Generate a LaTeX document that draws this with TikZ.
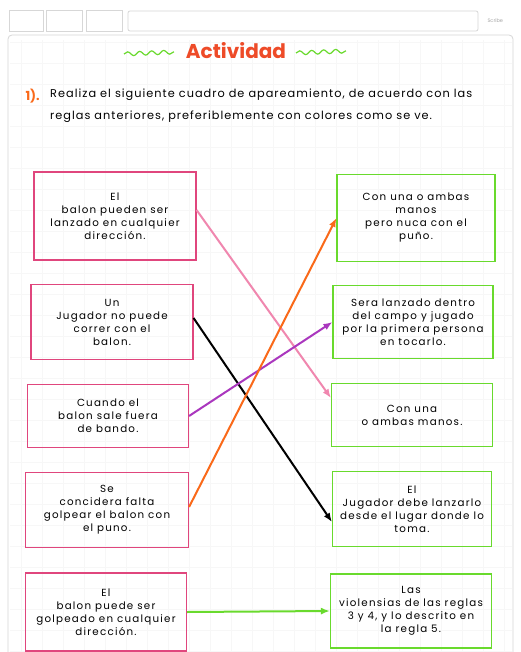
\documentclass[tikz,border=0pt]{standalone}
\usepackage{fontspec}
\setmainfont{Poppins}
\usetikzlibrary{arrows.meta,decorations.pathmorphing}

\definecolor{rosa}{RGB}{224,70,125}
\definecolor{rosaclaro}{RGB}{240,135,175}
\definecolor{verde}{RGB}{105,218,45}
\definecolor{naranja}{RGB}{250,105,25}
\definecolor{morado}{RGB}{170,55,190}
\definecolor{titulo}{RGB}{238,75,40}
\definecolor{marco}{RGB}{215,215,215}

\newcommand{\letra}{\fontsize{10.3}{13}\selectfont\addfontfeature{LetterSpace=12}}

\begin{document}
\begin{tikzpicture}[x=1pt,y=-1pt,
    izq/.style={draw=rosa,line width=1.1pt,align=center,font=\letra,inner sep=1pt},
    der/.style={draw=verde,line width=1.1pt,align=center,font=\letra,inner sep=1pt},
    flecha/.style={line width=2pt,-{Latex[length=9pt,width=7pt]}},
    ola/.style={verde,line width=1.2pt,decorate,decoration={snake,amplitude=2pt,segment length=12pt}}]
    \useasboundingbox (0,0) rectangle (521,652);
    \fill[white] (0,0) rectangle (521,652);

    % cuadro de la pagina
    \draw[black!3,step=21pt] (10,40) grid (512,652);
    \draw[marco,line width=0.8pt,rounded corners=4pt] (8,35) rectangle (513,670);
    \draw[marco,line width=0.8pt] (9,10) rectangle (43,31) (46,10) rectangle (82,31) (86,10) rectangle (122,31);
    \draw[marco,line width=0.8pt,rounded corners=2pt] (128,11) rectangle (478,31);
    \node[gray!70,font=\tiny,anchor=west] (scribe) at (484,21) {Scribe};

    % titulo
    \node[titulo,font=\fontsize{20}{22}\selectfont\bfseries] (act) at (236,51) {Actividad};
    \draw[ola] (124,54) -- (174,52);
    \draw[ola] (296,53) -- (346,51);

    \node[naranja,font=\fontsize{12.5}{14}\selectfont\bfseries,anchor=west] (num) at (22,96) {1).};
    \node[anchor=north west,align=left,inner sep=0pt,
          font=\fontsize{11.3}{22}\selectfont\addfontfeature{LetterSpace=9}] (enunciado) at (50,89)
          {Realiza el siguiente cuadro de apareamiento, de acuerdo con las\\
           reglas anteriores, preferiblemente con colores como se ve.};

    % columna izquierda
    \node[izq,minimum width=162pt,minimum height=88pt] (l1) at (115,216)
        {El\\ balon pueden ser\\ lanzado en cualquier\\ dirección.};
    \node[izq,minimum width=162pt,minimum height=75pt] (l2) at (112,322)
        {Un\\ Jugador no puede\\ correr con el\\ balon.};
    \node[izq,minimum width=161pt,minimum height=63pt] (l3) at (108,416)
        {Cuando el\\ balon sale fuera\\ de bando.};
    \node[izq,minimum width=163pt,minimum height=75pt] (l4) at (107,510)
        {Se\\ concidera falta\\ golpear el balon con\\ el puno.};
    \node[izq,minimum width=161pt,minimum height=78pt] (l5) at (106,612)
        {El\\ balon puede ser\\ golpeado en cualquier\\ dirección.};

    % columna derecha
    \node[der,minimum width=158pt,minimum height=87pt] (r1) at (416,218)
        {Con una o ambas\\ manos\\ pero nuca con el\\ puño.};
    \node[der,minimum width=160pt,minimum height=73pt] (r2) at (413,322)
        {Sera lanzado dentro\\ del campo y jugado\\ por la primera persona\\ en tocarlo.};
    \node[der,minimum width=161pt,minimum height=63pt] (r3) at (412,415)
        {Con una\\ o ambas manos.};
    \node[der,minimum width=159pt,minimum height=75pt] (r4) at (412,509)
        {El\\ Jugador debe lanzarlo\\ desde el lugar donde lo\\ toma.};
    \node[der,minimum width=161pt,minimum height=74pt] (r5) at (411,611)
        {Las\\ violensias de las reglas\\ 3 y 4, y lo descrito en\\ la regla 5.};

    % flechas
    \draw[flecha,rosaclaro] ([yshift=6pt]l1.east) -- ([yshift=17pt]r3.west);
    \draw[flecha,black] ([yshift=4pt]l2.east) -- ([yshift=-13pt]r4.west);
    \draw[flecha,morado] (l3.east) -- (r2.west);
    \draw[flecha,naranja] ([yshift=3pt]l4.east) -- (r1.west);
    \draw[flecha,verde] (l5.east) -- (r5.west);
  \end{tikzpicture}
\end{document}
